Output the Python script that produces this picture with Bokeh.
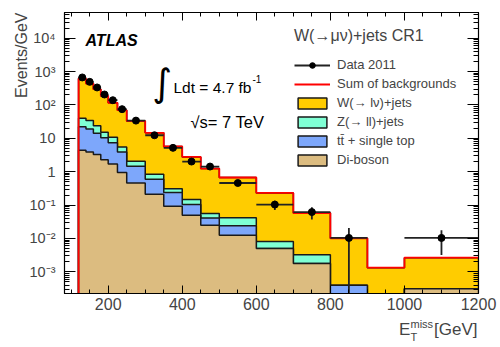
import numpy as np
from bokeh.plotting import figure
from bokeh.models import (Range1d, FixedTicker, LinearAxis, LogAxis, Legend,
                          LegendItem, Label, Title, CustomJSTickFormatter)
from bokeh.embed import file_html
from bokeh.resources import INLINE

# ---------------- data ----------------
bin_edges = [120, 140, 160, 180, 200, 225, 250, 300, 350, 400, 450, 500,
             600, 700, 800, 900, 1000, 1200]
w_jets = [583, 407, 274, 172, 105, 64.5, 30.9, 13.8, 5.4, 2.63, 1.19, 0.63,
          0.223, 0.0547, 0.0097, 0.00134, 0.00236]
z_jets = [17.7, 14.8, 9.7, 4.8, 3.4, 1.6, 0.61, 0.24, 0.07, 0.043, 0.015,
          0.018, 0.0032, 0.0015, 0, 0, 0]
top_single = [17.9, 15.3, 11.0, 8.2, 5.7, 2.95, 1.0, 0.39, 0.148, 0.054,
              0.016, 0.0115, 0, 0, 0.000395, 0, 0]
diboson = [4.4, 3.9, 3.3, 2.3, 1.7, 0.95, 0.46, 0.21, 0.092, 0.050, 0.025,
           0.0125, 0.005, 0.00177, 0, 0, 0.00031]

data_x = [130, 150, 170, 190, 212.5, 237.5, 275, 325, 375, 425, 475, 550,
          650, 750, 850, 1100]
data_xerr = [10, 10, 10, 10, 12.5, 12.5, 25, 25, 25, 25, 25, 50, 50, 50, 50, 100]
data_y = [668, 493, 335, 206, 139, 75, 34, 12.4, 5.2, 2.02, 1.43, 0.46,
          0.104, 0.062, 0.0104, 0.0104]
data_yerr = [5.8, 5.0, 4.1, 3.2, 2.4, 1.7, 0.8, 0.5, 0.32, 0.2, 0.17, 0.068,
             0.032, 0.025, 0.0104, 0.0072]

x_major = [200, 400, 600, 800, 1000, 1200]
y_labels = {10000: "10⁴", 1000: "10³", 100: "10²", 10: "10", 1: "1",
            0.1: "10⁻¹", 0.01: "10⁻²", 0.001: "10⁻³"}

# ---------------- geometry ----------------
X0, X1 = 82.0, 1200.0
Y0, Y1 = 2.25e-4, 5.9e4
FONT = "Liberation Sans"
FLOOR = 1e-8

# page-pixel -> data helpers for text placement (frame at 64..478 x 12..293)
def dx(px):
    return float(X0 + (px - 64) / 414.0 * (X1 - X0))

def dy(py):
    lt, lb = np.log10(Y1), np.log10(Y0)
    return float(10 ** (lt - (py - 12) / 281.0 * (lt - lb)))

p = figure(frame_width=414, frame_height=281, min_border_left=64,
           min_border_top=12, min_border_right=22, min_border_bottom=54,
           x_range=Range1d(X0, X1), y_range=Range1d(Y0, Y1),
           y_axis_type="log", output_backend="svg", toolbar_location=None,
           background_fill_color="white", border_fill_color="white")
p.grid.visible = False
p.outline_line_color = "black"
p.outline_line_width = 1.2

# ---------------- stacked histograms ----------------
e = np.array(bin_edges, dtype=float)
c_db = np.array(diboson, dtype=float)
c_top = c_db + np.array(top_single)
c_z = c_top + np.array(z_jets)
c_w = c_z + np.array(w_jets)

def step_poly(tops):
    t = np.where(tops > 0, tops, FLOOR)
    xs = [e[0]]
    ys = [FLOOR]
    for i in range(len(t)):
        xs += [e[i], e[i + 1]]
        ys += [t[i], t[i]]
    xs.append(e[-1])
    ys.append(FLOOR)
    return [float(v) for v in xs], [float(v) for v in ys]

layers = [(c_w, "#ffcc00"), (c_z, "#7fffd4"), (c_top, "#7da7fb"), (c_db, "#dcbc80")]
rends = []
for tops, col in layers:
    xs, ys = step_poly(tops)
    r = p.patch(xs, ys, fill_color=col, line_color="#1a1a1a", line_width=1.5)
    rends.append(r)

xs, ys = step_poly(c_w)
red_r = p.line(xs[:-1], ys[:-1], line_color="#ff0000", line_width=1.8)

# ---------------- data ----------------
dxa = np.array(data_x); dya = np.array(data_y)
dxe = np.array(data_xerr); dye = np.array(data_yerr)
hseg = p.segment(dxa - dxe, dya, dxa + dxe, dya, line_color="#222222", line_width=1.8)
vlo = np.where(dya - dye > 0, dya - dye, FLOOR)
p.segment(dxa, vlo, dxa, dya + dye, line_color="#222222", line_width=1.8)
circ = p.scatter(dxa, dya, marker="circle", size=7, fill_color="black",
                 line_color="black")

# ---------------- axes ----------------
x_ticker = FixedTicker(ticks=x_major,
                       minor_ticks=list(range(100, 1201, 50)))
dec = [10.0 ** k for k in range(-4, 5)]
y_minor = [m * d for d in dec for m in range(2, 10)]
y_ticker = FixedTicker(ticks=list(y_labels.keys()), minor_ticks=y_minor)

xa = p.xaxis[0]
xa.ticker = x_ticker
xa.major_tick_in = 8; xa.major_tick_out = 0
xa.minor_tick_in = 4; xa.minor_tick_out = 0
xa.major_label_text_font = FONT
xa.major_label_text_font_size = "16px"
xa.major_label_standoff = 4
xa.axis_line_color = "black"

ya = p.yaxis[0]
ya.ticker = y_ticker
ya.major_label_overrides = y_labels
ya.major_tick_in = 11; ya.major_tick_out = 0
ya.minor_tick_in = 5; ya.minor_tick_out = 0
ya.major_label_text_font = FONT
ya.major_label_text_font_size = "14.5px"
ya.major_label_standoff = 9
ya.axis_line_color = "black"

blank = CustomJSTickFormatter(code="return ''")
top_ax = LinearAxis(ticker=x_ticker, major_tick_in=8, major_tick_out=0,
                    minor_tick_in=4, minor_tick_out=0, formatter=blank,
                    major_label_standoff=0)
p.add_layout(top_ax, "above")
right_ax = LogAxis(ticker=y_ticker, major_tick_in=11, major_tick_out=0,
                   minor_tick_in=5, minor_tick_out=0, formatter=blank,
                   major_label_standoff=0)
p.add_layout(right_ax, "right")

# y-axis title, aligned to the top end as in ROOT
p.add_layout(Title(text="Events/GeV", align="right", text_font=FONT,
                   text_font_size="16px", text_font_style="normal",
                   standoff=-6, offset=0), "left")
p.add_layout(Title(text="\u00a0", text_font=FONT, text_font_size="10px",
                   standoff=0), "left")

# x-axis title E_T^miss [GeV], right aligned, built from stacked title rows
def xtitle(text, size, standoff, align, offset):
    p.add_layout(Title(text=text, align=align, vertical_align="top",
                       text_font=FONT, text_font_size=size,
                       text_font_style="normal", standoff=standoff,
                       offset=offset), "below")

xtitle("miss", "11px", 11, "left", 346)
xtitle("T", "11px", -14, "left", 346)
xtitle("E" + "\u00a0" * 5 + "[GeV]", "17px", -35, "right", 1)

# ---------------- legend ----------------
legend = Legend(items=[
    LegendItem(label="Data 2011", renderers=[hseg, circ]),
    LegendItem(label="Sum of backgrounds", renderers=[red_r]),
    LegendItem(label="W(→ lν)+jets", renderers=[rends[0]]),
    LegendItem(label="Z(→ ll)+jets", renderers=[rends[1]]),
    LegendItem(label="tt̄ + single top", renderers=[rends[2]]),
    LegendItem(label="Di-boson", renderers=[rends[3]]),
], location=(230, 126), title="W(→μν)+jets CR1",
    title_text_font=FONT, title_text_font_size="16px",
    title_text_font_style="normal", title_standoff=12,
    label_text_font=FONT, label_text_font_size="13px",
    glyph_width=36, glyph_height=14, label_height=14, spacing=4,
    label_standoff=7, padding=0, margin=0,
    background_fill_alpha=0, border_line_alpha=0)
p.add_layout(legend)

# ---------------- texts inside the frame ----------------
def lab(text, px, py, size, style="normal", align="left", font=FONT):
    p.add_layout(Label(x=dx(px), y=dy(py), text=text, text_font=font,
                       text_font_size=size, text_font_style=style,
                       text_align=align, text_baseline="alphabetic",
                       text_color="black"))

lab("ATLAS", 85, 39.5, "16px", style="bold italic")
lab("∫", 152, 82, "38px", font="DejaVu Sans", style="italic")
lab("Ldt = 4.7 fb", 173, 87, "15.5px")
lab("-1", 252, 78.5, "10px")
lab("√s= 7 TeV", 190, 121.7, "16.5px")

open("out.html", "w").write(file_html(p, INLINE))
